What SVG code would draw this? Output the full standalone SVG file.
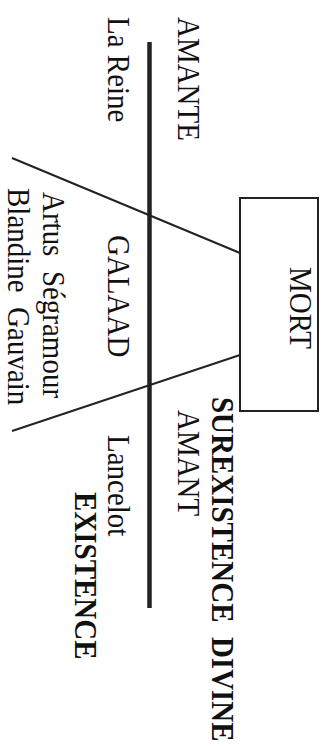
<svg xmlns="http://www.w3.org/2000/svg" width="324" height="748" viewBox="0 0 324 748">
<style>
text{font-family:"Liberation Serif","Times New Roman",serif;font-size:29px;fill:#111}
.b{font-weight:bold}
.ln{stroke:#222;fill:none}
</style>
<rect width="324" height="748" fill="#fff"/>
<g id="connectors">
<line class="ln" x1="149.5" y1="42" x2="149.5" y2="608" stroke-width="4.5"/>
<line class="ln" x1="12" y1="158" x2="240" y2="253" stroke-width="2"/>
<line class="ln" x1="240" y1="355" x2="12" y2="431" stroke-width="2"/>
</g>
<g id="mort">
<rect x="240" y="198" width="78" height="213" fill="none" stroke="#222" stroke-width="2"/>
<text transform="translate(290,267) rotate(90) scale(1,1.12)">MORT</text>
</g>
<g id="amante"><text transform="translate(178,17) rotate(90) scale(1,1.12)">AMANTE</text></g>
<g id="lareine"><text transform="translate(108,17) rotate(90) scale(1,1.12)">La Reine</text></g>
<g id="galaad"><text transform="translate(108,235) rotate(90) scale(1,1.12)">GALAAD</text></g>
<g id="artus"><text transform="translate(43,192) rotate(90) scale(1,1.12)" xml:space="preserve">Artus  Ségramour</text></g>
<g id="blandine"><text transform="translate(8,188) rotate(90) scale(1,1.12)" xml:space="preserve">Blandine  Gauvain</text></g>
<g id="surexistence"><text class="b" transform="translate(212,397) rotate(90) scale(1,1.12)" xml:space="preserve">SUREXISTENCE  DIVINE</text></g>
<g id="amant"><text transform="translate(178,410) rotate(90) scale(1,1.12)">AMANT</text></g>
<g id="lancelot"><text transform="translate(108,435) rotate(90) scale(1,1.12)">Lancelot</text></g>
<g id="existence"><text class="b" transform="translate(75,492) rotate(90) scale(1,1.12)">EXISTENCE</text></g>
</svg>
